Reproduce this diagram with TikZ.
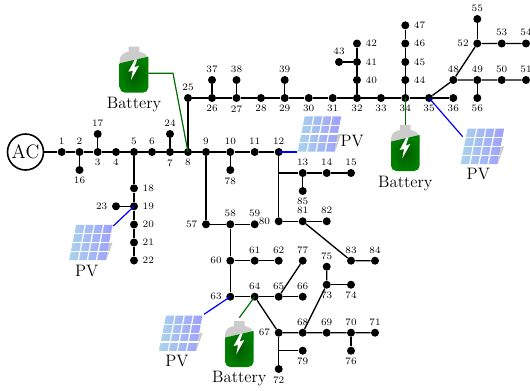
\documentclass[tikz,border=0pt]{standalone}
\usepackage{amsmath}
\usepackage{tikz}

\definecolor{batgreen}{RGB}{0,110,0}
\definecolor{pvleft}{RGB}{170,212,235}
\definecolor{pvright}{RGB}{158,158,255}

\tikzset{
    bus/.style={circle, fill=black, inner sep=0pt, minimum size=6pt},
    every label/.style={font=\fontsize{7.4}{9}\selectfont, inner xsep=1pt, inner ysep=0pt},
    label distance=2.1pt,
    line/.style={line width=1pt},
    batline/.style={line width=0.9pt, batgreen},
    pvline/.style={line width=0.9pt, blue},
    caption/.style={font=\fontsize{12.4}{14}\selectfont, inner sep=0pt},
    battery/.pic={
        \fill[black!20] (-14.3,14) .. controls (-14.3,8) and (-10,6) .. (-5.3,5) -- (-5.3,0) -- (5.3,0) -- (5.3,5) .. controls (10,6) and (14.3,8) .. (14.3,14) -- (14.3,20) -- (-14.3,20) -- cycle;
        \shade[inner color=green!35!black, outer color=green!50!black] (-14.3,16.6) -- (14.3,10) [rounded corners=4pt] -- (14.3,46) -- (-14.3,46) [sharp corners] -- cycle;
        \fill[white] (1,12.6) -- (-5.7,25) -- (-1.3,24) -- (-3,33.3) -- (5,19) -- (0.3,20.6) -- (3.3,12.6) -- cycle;
    },
    pvpanel/.pic={
        \fill[black!20] (14.5,0) -- (21.8,0) -- (15.5,17.7) -- (12,17.7) -- cycle;
        \shade[left color=pvleft, right color=pvright] (-21.7,17.7) -- (-14.7,-17.7) -- (21.8,-17.7) -- (14.8,17.7) -- cycle;
        % Cell gaps
        \draw[white, line width=0.9pt] (-20,8.85) -- (18,8.85);
        \draw[white, line width=0.9pt] (-20,0) -- (19,0);
        \draw[white, line width=0.9pt] (-19,-8.85) -- (20,-8.85);
        \draw[white, line width=0.9pt] (-12.55,17.7) -- (-5.55,-17.7);
        \draw[white, line width=0.9pt] (-3.45,17.7) -- (3.55,-17.7);
        \draw[white, line width=0.9pt] (5.65,17.7) -- (12.65,-17.7);
    }
}

\begin{document}
\begin{tikzpicture}[x=0.75pt,y=-0.75pt]
    \useasboundingbox (0,0) rectangle (530,390);

    % Nodes
    \node[circle, draw, line width=1.2pt, minimum size=27pt, inner sep=0pt, font=\fontsize{14.6}{16}\selectfont] (ac) at (25.5,152) {AC};
    \node[bus, label=above:1] (1) at (61.7,152) {};
    \node[bus, label=above:2] (2) at (79.5,152) {};
    \node[bus, label=below:3] (3) at (97.7,152) {};
    \node[bus, label=below:4] (4) at (116,152) {};
    \node[bus, label=above:5] (5) at (134,152) {};
    \node[bus, label=above:6] (6) at (152,152) {};
    \node[bus, label=below:7] (7) at (170,152) {};
    \node[bus, label=below:8] (8) at (188,152) {};
    \node[bus, label=above:9] (9) at (206,152) {};
    \node[bus, label=above:10] (10) at (230.3,152) {};
    \node[bus, label=above:11] (11) at (254.7,152) {};
    \node[bus, label=above:12] (12) at (278.7,152) {};
    \node[bus, label=above:13] (13) at (302.7,173) {};
    \node[bus, label=above:14] (14) at (326.7,173) {};
    \node[bus, label=above:15] (15) at (351,173) {};
    \node[bus, label=below:16] (16) at (79.5,170) {};
    \node[bus, label=above:17] (17) at (97.7,134) {};
    \node[bus, label=right:18] (18) at (134,188.3) {};
    \node[bus, label=right:19] (19) at (134,206.3) {};
    \node[bus, label=right:20] (20) at (134,224.5) {};
    \node[bus, label=right:21] (21) at (134,242.5) {};
    \node[bus, label=right:22] (22) at (134,260.5) {};
    \node[bus, label=left:23] (23) at (116,206.3) {};
    \node[bus, label=above:24] (24) at (170,134) {};
    \node[bus, label=above:25] (25) at (188,98) {};
    \node[bus, label=below:26] (26) at (212,98) {};
    \node[bus, label=below:27] (27) at (236.5,98) {};
    \node[bus, label=below:28] (28) at (261,98) {};
    \node[bus, label=below:29] (29) at (284.7,98) {};
    \node[bus, label=below:30] (30) at (308.7,98) {};
    \node[bus, label=below:31] (31) at (332.7,98) {};
    \node[bus, label=below:32] (32) at (357,98) {};
    \node[bus, label=below:33] (33) at (381,98) {};
    \node[bus, label=below:34] (34) at (405.3,98) {};
    \node[bus, label=below:35] (35) at (429,98) {};
    \node[bus, label=below:36] (36) at (453.3,98) {};
    \node[bus, label=above:37] (37) at (212,80) {};
    \node[bus, label=above:38] (38) at (236.5,80) {};
    \node[bus, label=above:39] (39) at (284.7,80) {};
    \node[bus, label=right:40] (40) at (357,80) {};
    \node[bus, label=right:41] (41) at (357,62) {};
    \node[bus, label=right:42] (42) at (357,43.5) {};
    \node[bus, label=above:43] (43) at (339,62) {};
    \node[bus, label=right:44] (44) at (405.3,80) {};
    \node[bus, label=right:45] (45) at (405.3,62) {};
    \node[bus, label=right:46] (46) at (405.3,43.5) {};
    \node[bus, label=right:47] (47) at (405.3,25.3) {};
    \node[bus, label=above:48] (48) at (453.3,80) {};
    \node[bus, label=above:49] (49) at (477.3,80) {};
    \node[bus, label=above:50] (50) at (501.7,80) {};
    \node[bus, label=above:51] (51) at (526,80) {};
    \node[bus, label=left:52] (52) at (477.3,43.5) {};
    \node[bus, label=above:53] (53) at (501.7,43.5) {};
    \node[bus, label=above:54] (54) at (526,43.5) {};
    \node[bus, label=above:55] (55) at (477.3,19) {};
    \node[bus, label=below:56] (56) at (477.3,98) {};
    \node[bus, label=left:57] (57) at (206,224.3) {};
    \node[bus, label=above:58] (58) at (230.3,224.3) {};
    \node[bus, label=above:59] (59) at (254.7,224.3) {};
    \node[bus, label=left:60] (60) at (230.3,260.7) {};
    \node[bus, label=above:61] (61) at (254.7,260.7) {};
    \node[bus, label=above:62] (62) at (278.7,260.7) {};
    \node[bus, label=left:63] (63) at (230.3,296.7) {};
    \node[bus, label=above:64] (64) at (254.7,296.7) {};
    \node[bus, label=above:65] (65) at (278.7,296.7) {};
    \node[bus, label=above:66] (66) at (302.7,296.7) {};
    \node[bus, label=left:67] (67) at (278.7,332.7) {};
    \node[bus, label=above:68] (68) at (302.7,332.7) {};
    \node[bus, label=above:69] (69) at (326.7,332.7) {};
    \node[bus, label=above:70] (70) at (351,332.7) {};
    \node[bus, label=above:71] (71) at (375,332.7) {};
    \node[bus, label=below:72] (72) at (278.7,369) {};
    \node[bus, label=below:73] (73) at (326.7,284.7) {};
    \node[bus, label=below:74] (74) at (351,284.7) {};
    \node[bus, label=above:75] (75) at (326.7,266.7) {};
    \node[bus, label=below:76] (76) at (351,350.7) {};
    \node[bus, label=above:77] (77) at (302.7,260.7) {};
    \node[bus, label=below:78] (78) at (230.3,170) {};
    \node[bus, label=below:79] (79) at (302.7,350.7) {};
    \node[bus, label=left:80] (80) at (278.7,221.3) {};
    \node[bus, label=above:81] (81) at (302.7,221.3) {};
    \node[bus, label=above:82] (82) at (326.7,221.3) {};
    \node[bus, label=above:83] (83) at (351,260.7) {};
    \node[bus, label=above:84] (84) at (375,260.7) {};
    \node[bus, label=below:85] (85) at (302.7,191) {};

    % Junctions on the long feeders
    \coordinate (j13) at (278.7,173);
    \coordinate (j79) at (278.7,350.7);

    % Batteries and panels
    \pic at (134,46.7) {battery};
    \pic at (405.3,125) {battery};
    \pic at (239.3,321) {battery};
    \pic at (319.4,134) {pvpanel};
    \pic at (482.3,146.3) {pvpanel};
    \pic at (90.8,242.5) {pvpanel};
    \pic at (180.7,333.2) {pvpanel};
    \node[caption] (battery1) at (134,105) {Battery};
    \node[caption] (battery2) at (405.3,183.3) {Battery};
    \node[caption] (battery3) at (239.3,379) {Battery};
    \node[caption] (pv1) at (352.3,141) {PV};
    \node[caption] (pv2) at (478.3,174) {PV};
    \node[caption] (pv3) at (86.7,271) {PV};
    \node[caption] (pv4) at (177,360.7) {PV};
    \coordinate (bat1) at (148.3,73.3);
    \coordinate (bat1bend) at (173,73.3);
    \coordinate (bat2) at (405.3,125);
    \coordinate (bat3) at (239.3,317.7);
    \coordinate (panel1) at (296.7,152);
    \coordinate (panel2) at (462.7,136.7);
    \coordinate (panel3) at (113.3,226);
    \coordinate (panel4) at (204,314.3);

    % Edges
    \draw[line] (ac) -- (1) -- (2) -- (3) -- (4) -- (5) -- (6) -- (7) -- (8) -- (9) -- (10) -- (11) -- (12);
    \draw[line] (2) -- (16);
    \draw[line] (3) -- (17);
    \draw[line] (7) -- (24);
    \draw[line] (5) -- (18) -- (19) -- (20) -- (21) -- (22);
    \draw[line] (19) -- (23);
    \draw[line] (10) -- (78);
    \draw[line] (8) -- (25) -- (26) -- (27) -- (28) -- (29) -- (30) -- (31) -- (32) -- (33) -- (34) -- (35) -- (36);
    \draw[line] (26) -- (37);
    \draw[line] (27) -- (38);
    \draw[line] (29) -- (39);
    \draw[line] (32) -- (40) -- (41) -- (42);
    \draw[line] (41) -- (43);
    \draw[line] (34) -- (44) -- (45) -- (46) -- (47);
    \draw[line] (35) -- (48) -- (49) -- (50) -- (51);
    \draw[line] (49) -- (56);
    \draw[line] (48) -- (52) -- (53) -- (54);
    \draw[line] (52) -- (55);
    \draw[line] (12) -- (80) -- (81) -- (82);
    \draw[line] (j13) -- (13) -- (14) -- (15);
    \draw[line] (13) -- (85);
    \draw[line] (81) -- (83) -- (84);
    \draw[line] (9) -- (57) -- (58) -- (59);
    \draw[line] (58) -- (60) -- (63) -- (64) -- (65) -- (66);
    \draw[line] (60) -- (61) -- (62);
    \draw[line] (65) -- (77);
    \draw[line] (64) -- (67) -- (68) -- (69) -- (70) -- (71);
    \draw[line] (67) -- (72);
    \draw[line] (j79) -- (79);
    \draw[line] (70) -- (76);
    \draw[line] (68) -- (73) -- (75);
    \draw[line] (73) -- (74);

    \draw[batline] (bat1) -- (bat1bend) -- (8.center);
    \draw[batline] (34.center) -- (bat2);
    \draw[batline] (64.center) -- (bat3);
    \draw[pvline] (12.center) -- (panel1);
    \draw[pvline] (35.center) -- (panel2);
    \draw[pvline] (19.center) -- (panel3);
    \draw[pvline] (63.center) -- (panel4);
\end{tikzpicture}
\end{document}
